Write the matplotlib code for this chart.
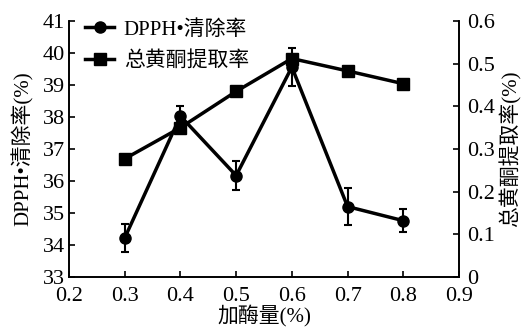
import matplotlib
matplotlib.use("Agg")
import matplotlib.pyplot as plt
from matplotlib.lines import Line2D

plt.rcParams['font.family'] = ['Liberation Serif', 'Noto Sans CJK SC']

x = [0.3, 0.4, 0.5, 0.6, 0.7, 0.8]
dpph = [34.22, 38.03, 36.17, 39.56, 35.2, 34.76]
dpph_err = [0.44, 0.3, 0.45, 0.6, 0.58, 0.36]
flav = [0.277, 0.35, 0.435, 0.512, 0.483, 0.453]

xticks = [0.2, 0.3, 0.4, 0.5, 0.6, 0.7, 0.8, 0.9]
yl_ticks = [33, 34, 35, 36, 37, 38, 39, 40, 41]
yr_ticks = [0, 0.1, 0.2, 0.3, 0.4, 0.5, 0.6]
names = ['DPPH•清除率', '总黄酮提取率']

fig = plt.figure(figsize=(5.31, 3.29), dpi=100)
ax = fig.add_axes([69/531, 1 - 277/329, (459-69)/531, (277-21)/329])
ax2 = ax.twinx()

ax.errorbar(x, dpph, yerr=dpph_err, color='black', lw=2.5, marker='o', ms=8,
            capsize=3, elinewidth=1.5, capthick=1.5, zorder=3)
ax2.plot(x, flav, color='black', lw=2.5, marker='s', ms=8)

ax.set_xlim(0.2, 0.9)
ax.set_ylim(33, 41)
ax2.set_ylim(0, 0.6)
ax.set_xticks(xticks)
ax.set_xticklabels(['0.2', '0.3', '0.4', '0.5', '0.6', '0.7', '0.8', '0.9'])
ax.set_yticks(yl_ticks)
ax2.set_yticks(yr_ticks)
ax2.set_yticklabels(['0', '0.1', '0.2', '0.3', '0.4', '0.5', '0.6'])

for a in (ax, ax2):
    a.spines['top'].set_visible(False)
    for s in a.spines.values():
        s.set_linewidth(1.2)
    a.tick_params(direction='in', length=4, width=1.2, labelsize=16, pad=3)
ax.tick_params(axis='x', pad=7)
ax2.tick_params(axis='y', pad=6)

ax.set_xlabel('加酶量(%)', fontsize=15, labelpad=0)
ax.set_ylabel('DPPH•清除率(%)', fontsize=15, labelpad=6)
ax2.set_ylabel('总黄酮提取率(%)', fontsize=15, labelpad=3)

h1 = Line2D([], [], color='black', lw=2.5, marker='o', ms=8)
h2 = Line2D([], [], color='black', lw=2.5, marker='s', ms=8)
ax.legend([h1, h2], names, loc='upper left',
          frameon=False, fontsize=15, handlelength=1.4, borderaxespad=0.0,
          handletextpad=0.45, labelspacing=0.55, bbox_to_anchor=(0.02, 1.037))

fig.savefig('out.png', dpi=100)
